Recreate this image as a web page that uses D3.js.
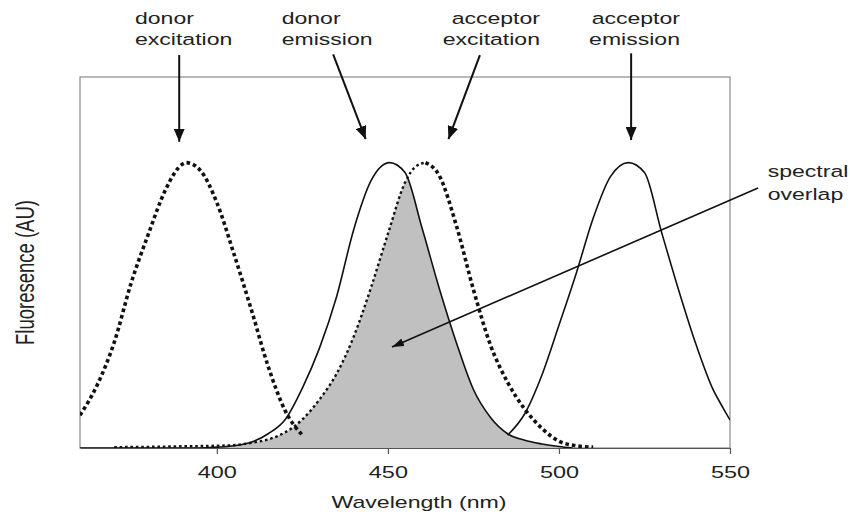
<!DOCTYPE html>
<html><head><meta charset="utf-8">
<script src="https://cdn.jsdelivr.net/npm/d3@7"></script>
<style>
body{margin:0;background:#fff}
svg{display:block}
text{font-family:"Liberation Sans",Arial,Helvetica,sans-serif;fill:#222}
</style>
</head><body>
<svg id="c" width="850" height="512"></svg>
<script>
// ---- data (wavelength nm, fluorescence AU; peak = 100) ----
const wavelengthTicks = [400, 450, 500, 550];
const donorExcitation = [[360,11.5],[365,22],[370,37],[375,58],[380,75],[385,90.5],[390,99.5],[391,100],[395,97.5],[400,86],[405,68],[410,48.8],[415,28.6],[420,13],[425,4.5]];
const donorEmission = [[360,0],[395,0],[400,0.3],[405,0.8],[410,2],[415,5],[420,10],[425,21],[430,35],[435,53],[440,76.5],[445,93.5],[450.5,100],[455,96.5],[460,77],[465,56],[470,37],[475,20.5],[480,10.7],[485,5],[490,2.7],[495,1.4],[500,0.5],[504,0]];
const acceptorExcitation = [[370,0.3],[380,0.4],[390,0.6],[400,0.8],[405,1],[410,1.8],[415,3],[420,5.5],[425,10],[430,17],[435,26],[440,39],[445,56],[450,75],[455,93],[458,98.5],[461,100],[465,95.5],[470,78],[475,55.5],[480,36],[485,23],[490,13.6],[495,6.9],[500,2.4],[505,0.8],[510,0.3]];
const acceptorEmission = [[485,4.5],[490,12],[495,25.5],[500,43],[505,61],[510,80.5],[515,95],[520.3,100],[525,96.5],[530,75.6],[535,55.3],[540,36.5],[545,20.6],[548,14],[550,9.8]];
const acceptorExcitationPeak = 461;

// annotation arrows in data units (nm, AU)
const labelArrows = [
  {from:[389,137.7], to:[389,107.3]},
  {from:[434,137.9], to:[443.5,108.2]},
  {from:[476.9,137.7], to:[467.7,108.2]},
  {from:[521.1,138.3], to:[521.1,107.9]}
];
const overlapArrow = {from:[558.2,91.1], to:[451.2,35.4]};
const labels = [
  {lines:["donor","excitation"], x:135, anchor:"start"},
  {lines:["donor","emission"], x:281.7, anchor:"start"},
  {lines:["acceptor","excitation"], x:540, anchor:"end"},
  {lines:["acceptor","emission"], x:680, anchor:"end"}
];
const overlapLabel = {lines:["spectral","overlap"], x:767.7, anchor:"start"};

// ---- chart ----
const SX = 1.38;
const svg = d3.select("#c");
const x = d3.scaleLinear().domain([360,550]).range([80,730]);
const y = d3.scaleLinear().domain([0,130]).range([448,77]);
const line = d3.line().x(d=>x(d[0])).y(d=>y(d[1])).curve(d3.curveMonotoneX);
const area = d3.area().x(d=>x(d[0])).y0(y(0)).y1(d=>y(d[1])).curve(d3.curveMonotoneX);

const defs = svg.append("defs");
defs.append("clipPath").attr("id","ov").append("path").attr("d", area(acceptorExcitation));
defs.append("clipPath").attr("id","plot").append("rect")
  .attr("x",x(360)).attr("y",y(130)).attr("width",x(550)-x(360)).attr("height",y(0)-y(130));
const mk = (id,len,wid)=>defs.append("marker").attr("id",id)
  .attr("viewBox",`0 0 ${len} ${wid}`).attr("refX",len).attr("refY",wid/2)
  .attr("markerWidth",len).attr("markerHeight",wid).attr("markerUnits","userSpaceOnUse")
  .attr("orient","auto").append("path").attr("d",`M0,0L${len},${wid/2}L0,${wid}Z`).attr("fill","#111");
mk("ah",13,11);
mk("ah2",12,8);

// frame
svg.append("rect").attr("x",x(360)).attr("y",y(130)).attr("width",x(550)-x(360)).attr("height",y(0)-y(130))
  .attr("fill","none").attr("stroke","#8a8a8a").attr("stroke-width",1.2);

const plot = svg.append("g").attr("clip-path","url(#plot)");
// spectral overlap shading
plot.append("path").attr("d", area(donorEmission)).attr("fill","#c0c0c0").attr("clip-path","url(#ov)");

// solid curves
[donorEmission, acceptorEmission].forEach(s=>{
  plot.append("path").attr("d", line(s)).attr("fill","none").attr("stroke","#111").attr("stroke-width",1.6);
});
// dotted curves
plot.append("path").attr("d", line(donorExcitation)).attr("fill","none").attr("stroke","#111")
  .attr("stroke-width",3.6).attr("stroke-dasharray","3.6 3");
plot.append("path").attr("d", line(acceptorExcitation.filter(d=>d[0]<=acceptorExcitationPeak))).attr("fill","none").attr("stroke","#111")
  .attr("stroke-width",2.4).attr("stroke-dasharray","2.6 2.8");
plot.append("path").attr("d", line(acceptorExcitation.filter(d=>d[0]>=acceptorExcitationPeak))).attr("fill","none").attr("stroke","#111")
  .attr("stroke-width",3.6).attr("stroke-dasharray","3.6 3");

// x axis
const ax = svg.append("g").attr("transform",`translate(0,${y(0)})`)
  .call(d3.axisBottom(x).tickValues(wavelengthTicks).tickSize(6).tickSizeOuter(0).tickFormat(d3.format("d")));
ax.select(".domain").attr("stroke","#555").attr("stroke-width",1.2);
ax.selectAll(".tick line").attr("stroke","#555").attr("stroke-width",1.2);
ax.selectAll(".tick text").attr("y",30).attr("dy","0").attr("font-size",17)
  .attr("font-family",'"Liberation Sans",Arial,sans-serif').attr("fill","#222")
  .attr("transform",`scale(${SX},1)`);

// axis titles
svg.append("text").attr("transform",`translate(419,508) scale(1.36,1)`).attr("text-anchor","middle")
  .attr("font-size",17).text("Wavelength (nm)");
svg.append("text").attr("transform",`translate(33.5,272.5) scale(${SX},1) rotate(-90)`).attr("text-anchor","middle")
  .attr("font-size",18.5).text("Fluoresence (AU)");

// annotations
function drawLabel(l, b1, b2){
  l.lines.forEach((t,i)=>{
    svg.append("text").attr("transform",`translate(${l.x},${i?b2:b1}) scale(${SX},1)`)
      .attr("text-anchor",l.anchor).attr("font-size",16.7).text(t);
  });
}
labels.forEach(l=>drawLabel(l,23.5,44.5));
drawLabel(overlapLabel,177,200);

labelArrows.forEach(a=>{
  svg.append("line").attr("x1",x(a.from[0])).attr("y1",y(a.from[1])).attr("x2",x(a.to[0])).attr("y2",y(a.to[1]))
    .attr("stroke","#111").attr("stroke-width",2).attr("marker-end","url(#ah)");
});
svg.append("line").attr("x1",x(overlapArrow.from[0])).attr("y1",y(overlapArrow.from[1]))
  .attr("x2",x(overlapArrow.to[0])).attr("y2",y(overlapArrow.to[1]))
  .attr("stroke","#111").attr("stroke-width",1.6).attr("marker-end","url(#ah2)");
</script>
</body></html>
